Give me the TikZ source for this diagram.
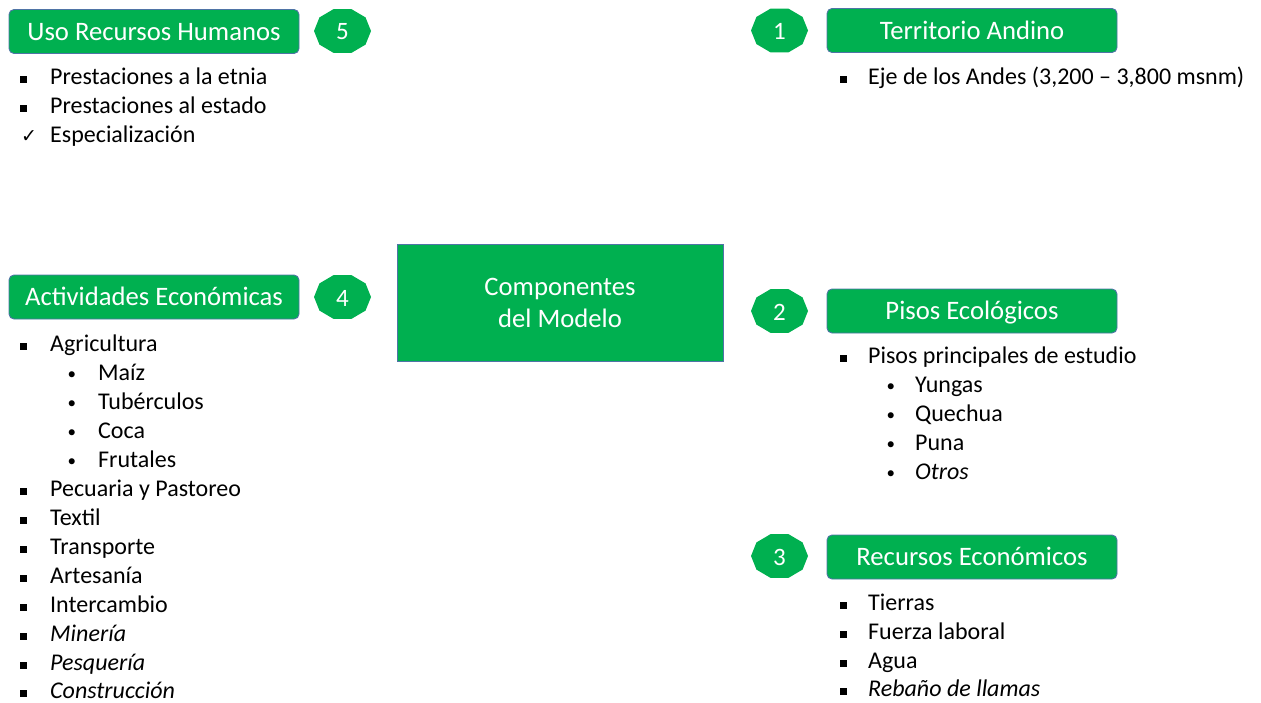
\documentclass[tikz,border=0pt]{standalone}
\usepackage{fontspec}
\setmainfont{Carlito}
\newfontfamily\dejavu{DejaVu Sans}
\definecolor{pgreen}{HTML}{00B050}
\definecolor{boxedge}{HTML}{4F74A6}
\newcommand\sqb[1]{\makebox[#1][l]{\raisebox{1.2pt}{\rule{7pt}{7pt}}}}
\newcommand\dotb[1]{\makebox[#1][l]{\hspace{0.5pt}{\fontsize{17}{17}\selectfont\raisebox{1pt}{\textbullet}}}}
\newcommand\chkb[1]{\makebox[#1][l]{\hspace{1pt}\dejavu\fontsize{19}{19}\selectfont ✓}}
\begin{document}
\begin{tikzpicture}[x=1pt,y=-1pt,
  hdr/.style={draw=boxedge, line width=0.9pt, fill=pgreen, rounded corners=5pt,
    minimum width=290pt, minimum height=44pt, text=white, inner sep=0pt,
    text height=22pt, text depth=5pt,
    font=\fontsize{26.67}{32}\selectfont},
  mainbox/.style={draw=boxedge, line width=0.9pt, fill=pgreen, minimum width=326pt,
    minimum height=117pt, text=white, inner sep=0pt, align=center,
    font=\fontsize{26.67}{32}\selectfont},
  item/.style={anchor=base west, inner sep=0pt, font=\fontsize{24}{29}\selectfont},
  num/.style={text=white, inner sep=0pt, font=\fontsize{25}{30}\selectfont},
  badge/.style={fill=pgreen}
]
\useasboundingbox (0,0) rectangle (1261,702);

% badges (decagons)
\foreach \cx/\cy in {342.5/31, 342.5/297, 779.5/30.5, 779.5/311, 779.5/556}{
  \fill[badge, shift={(\cx,\cy)}] (0:28.5 and 23.1)
    \foreach \a in {36,72,...,324}{ -- (\a:28.5 and 23.1)} -- cycle;
}
\node[num] (n5) at (342.5,32) {5};
\node[num] (n4) at (342.5,298) {4};
\node[num] (n1) at (779.5,31.5) {1};
\node[num] (n2) at (779.5,312) {2};
\node[num] (n3) at (779.5,557) {3};

% header boxes
\node[hdr] (uso) at (154,31.5) {Uso Recursos Humanos};
\node[hdr] (act) at (154,297) {Actividades Económicas};
\node[hdr] (ter) at (972,30.5) {Territorio Andino};
\node[hdr] (pis) at (972,311) {Pisos Ecológicos};
\node[hdr] (rec) at (972,557) {Recursos Económicos};

% central box
\node[mainbox] (comp) at (560,302.5) {Componentes\\del Modelo};

% left top list
\node[item] (u1) at (20,84) {\sqb{30pt}Prestaciones a la etnia};
\node[item] (u2) at (20,113) {\sqb{30pt}Prestaciones al estado};
\node[item] (u3) at (20,142) {\chkb{30pt}Especialización};

% left main list
\node[item] (a1) at (20,351) {\sqb{30pt}Agricultura};
\node[item] (a2) at (67,380) {\dotb{31pt}Maíz};
\node[item] (a3) at (67,409) {\dotb{31pt}Tubérculos};
\node[item] (a4) at (67,438) {\dotb{31pt}Coca};
\node[item] (a5) at (67,467) {\dotb{31pt}Frutales};
\node[item] (a6) at (20,496) {\sqb{30pt}Pecuaria y Pastoreo};
\node[item] (a7) at (20,525) {\sqb{30pt}Textil};
\node[item] (a8) at (20,554) {\sqb{30pt}Transporte};
\node[item] (a9) at (20,583) {\sqb{30pt}Artesanía};
\node[item] (a10) at (20,612) {\sqb{30pt}Intercambio};
\node[item] (a11) at (20,641) {\sqb{30pt}\textit{Minería}};
\node[item] (a12) at (20,670) {\sqb{30pt}\textit{Pesquería}};
\node[item] (a13) at (20,698) {\sqb{30pt}\textit{Construcción}};

% right lists
\node[item] (t1) at (840,84) {\sqb{28pt}Eje de los Andes (3,200 – 3,800 msnm)};

\node[item] (p1) at (840,363) {\sqb{28pt}Pisos principales de estudio};
\node[item] (p2) at (886,392) {\dotb{29pt}Yungas};
\node[item] (p3) at (886,421) {\dotb{29pt}Quechua};
\node[item] (p4) at (886,450) {\dotb{29pt}Puna};
\node[item] (p5) at (886,479) {\dotb{29pt}\textit{Otros}};

\node[item] (r1) at (840,610) {\sqb{28pt}Tierras};
\node[item] (r2) at (840,639) {\sqb{28pt}Fuerza laboral};
\node[item] (r3) at (840,668) {\sqb{28pt}Agua};
\node[item] (r4) at (840,696) {\sqb{28pt}\textit{Rebaño de llamas}};
\end{tikzpicture}
\end{document}
